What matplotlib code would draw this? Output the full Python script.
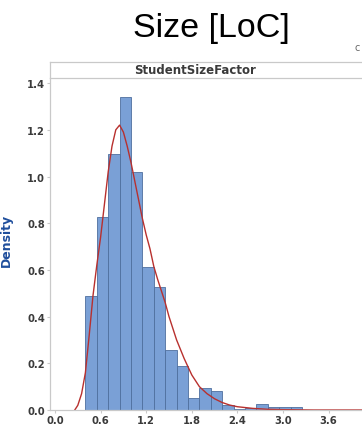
import matplotlib.pyplot as plt
import numpy as np

# ========================================
# Datos
# ========================================
bin_left = [0.40, 0.55, 0.70, 0.85, 1.00, 1.15, 1.30, 1.45, 1.60, 1.75,
            1.90, 2.05, 2.20, 2.35, 2.50, 2.65, 2.80, 2.95, 3.10]
bin_width = 0.15
bar_heights = [0.487, 0.828, 1.096, 1.339, 1.018, 0.611, 0.528, 0.257, 0.190, 0.050,
               0.093, 0.080, 0.020, 0.005, 0.008, 0.027, 0.012, 0.012, 0.012]

curve_x = [0.26, 0.30, 0.35, 0.40, 0.45, 0.50, 0.55, 0.60, 0.65, 0.70, 0.75, 0.80,
           0.85, 0.90, 0.95, 1.00, 1.05, 1.10, 1.15, 1.20, 1.25, 1.30, 1.35, 1.40,
           1.45, 1.50, 1.55, 1.60, 1.70, 1.80, 1.90, 2.00, 2.10, 2.20, 2.30, 2.40,
           2.60, 2.80, 3.00, 3.40, 4.20]
curve_y = [0.0, 0.02, 0.07, 0.16, 0.32, 0.49, 0.62, 0.74, 0.88, 1.02, 1.13, 1.20,
           1.22, 1.19, 1.13, 1.06, 0.98, 0.90, 0.82, 0.75, 0.69, 0.615, 0.56, 0.51,
           0.46, 0.40, 0.35, 0.30, 0.22, 0.15, 0.10, 0.07, 0.048, 0.032, 0.021, 0.014,
           0.007, 0.003, 0.0015, 0.0, 0.0]

x_ticks = [0.0, 0.6, 1.2, 1.8, 2.4, 3.0, 3.6]
y_ticks = [0.0, 0.2, 0.4, 0.6, 0.8, 1.0, 1.2, 1.4]

# ========================
# Colores
# ========================
color_barra = "#7aa0d6"
color_borde = "#4f6f9e"
color_curva = "#b8302e"
color_gris = "#c9c9c9"
color_texto = "#3a3a3a"

W, H = 362, 427
fig = plt.figure(figsize=(W / 100, H / 100), dpi=100)

# ejes principales (en pixeles de la imagen)
left, right, top, bottom = 50, 362, 79, 411
ax = fig.add_axes([left / W, 1 - bottom / H, (right - left) / W, (bottom - top) / H])

ax.bar(bin_left, bar_heights, width=bin_width, align="edge",
       color=color_barra, edgecolor=color_borde, linewidth=0.6)
ax.plot(curve_x, curve_y, color=color_curva, linewidth=1.0)

ax.set_xlim(-5 / 76, (right - 55) / 76)
ax.set_ylim(0, (bottom - top) / 233.5)
ax.set_xticks(x_ticks)
ax.set_yticks(y_ticks)
ax.set_xticklabels([f"{v:.1f}" for v in x_ticks])
ax.set_yticklabels([f"{v:.1f}" for v in y_ticks])
ax.tick_params(axis="both", colors=color_gris, labelcolor=color_texto,
               labelsize=7.2, length=2, width=0.8, pad=1.5)
for lab in ax.get_xticklabels() + ax.get_yticklabels():
    lab.set_fontweight("semibold")

for s in ["top", "right"]:
    ax.spines[s].set_visible(False)
for s in ["left", "bottom"]:
    ax.spines[s].set_color(color_gris)
    ax.spines[s].set_linewidth(0.9)

# franja del panel
strip = fig.add_axes([left / W, 1 - top / H, (right - left) / W, 16 / H])
strip.set_xticks([])
strip.set_yticks([])
for s in strip.spines.values():
    s.set_color(color_gris)
    s.set_linewidth(0.9)
strip.spines["right"].set_visible(False)
fig.text(195 / W, 1 - 70 / H, "StudentSizeFactor", ha="center", va="center",
         fontsize=8.5, fontweight="semibold", color=color_texto)

# titulo
fig.text(211 / W, 1 - 29 / H, "Size [LoC]", ha="center", va="center",
         fontsize=24.5, family="Liberation Sans", color="black")

# etiqueta Y (cortada en el borde)
fig.text(6 / W, 1 - 240 / H, "Density", rotation=90, ha="center", va="center",
         fontsize=9, color="#1f4e9c", fontweight="bold")

fig.text(357 / W, 1 - 48 / H, "c", ha="center", va="center",
         fontsize=7, color="#666666")

fig.savefig("out.png", dpi=100)
